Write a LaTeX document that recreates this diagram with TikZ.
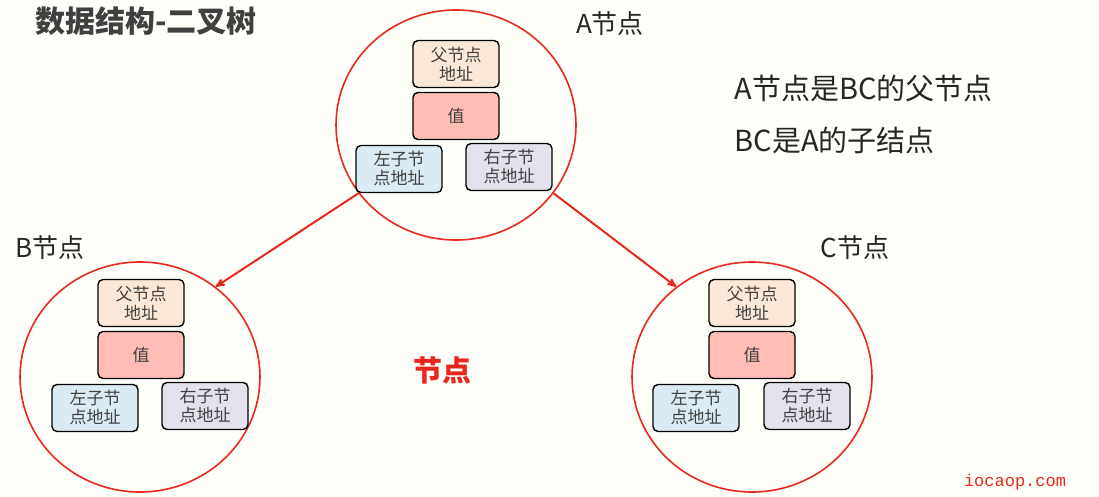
\documentclass[tikz,border=0pt]{standalone}
\usepackage{fontspec}
\setmainfont{Noto Sans CJK SC}
\setmonofont{Liberation Mono}
\usetikzlibrary{arrows,positioning,shapes.geometric}
\definecolor{ringred}{HTML}{E8281E}
\definecolor{parentfill}{HTML}{FCE8D8}
\definecolor{valfill}{HTML}{FFBDB5}
\definecolor{leftfill}{HTML}{DBEBF3}
\definecolor{rightfill}{HTML}{E3E1EB}
\tikzset{
  ring/.style={draw=ringred,line width=1.6pt,ellipse,minimum width=240pt,minimum height=230pt},
  cell/.style={draw,line width=1.4pt,rounded corners=5pt,minimum width=86pt,minimum height=47pt,
    align=center,font=\fontsize{17}{19}\selectfont,text=black!75,inner sep=1pt},
  title/.style={font=\fontsize{26}{30}\selectfont,text=black!85},
  link/.style={->,>=stealth',ringred,line width=2pt}
}
% #1 prefix, #2/#3 centre, #4 left offset, #5 right offset
\newcommand{\treenode}[5]{%
  \node[cell,fill=parentfill] (#1par) at (#2,#3-61) {父节点\\地址};
  \node[cell,fill=valfill] (#1val) at (#2,#3-9) {值};
  \node[cell,fill=leftfill] (#1lft) at (#2+#4,#3+44) {左子节\\点地址};
  \node[cell,fill=rightfill] (#1rgt) at (#2+#5,#3+42) {右子节\\点地址};
}
\begin{document}
\begin{tikzpicture}[x=1pt,y=-1pt]
  \fill[white!98!yellow] (0,0) rectangle (1099,497);
  \useasboundingbox (0,0) rectangle (1099,497);
  % three nodes of the tree
  \node[ring] (A) at (456,125) {};
  \node[ring] (B) at (140,377) {};
  \node[ring] (C) at (752,377) {};
  \treenode{a}{456}{125}{-57}{53}
  \treenode{b}{141}{364}{-46}{64}
  \treenode{c}{752}{364}{-56}{55}
  \node[title] (alab) at (610,24) {A节点};
  \node[title] (blab) at (50,248) {B节点};
  \node[title] (clab) at (855,248) {C节点};
  \node[font=\fontsize{30}{32}\selectfont\bfseries,text=black!75] (head) at (146,21) {数据结构-二叉树};
  \node[font=\fontsize{29}{32}\selectfont,text=black!85,anchor=west] (t1) at (731,88) {A节点是BC的父节点};
  \node[font=\fontsize{29}{32}\selectfont,text=black!85,anchor=west] (t2) at (731,140) {BC是A的子结点};
  \node[font=\fontsize{29}{32}\selectfont\bfseries,text=ringred] (mid) at (442,370) {节点};
  \node[font=\fontsize{17}{18}\selectfont\ttfamily,text=ringred] (mark) at (1015,482) {iocaop.com};
  \draw[link] (A.-145) -- (B.50);
  \draw[link] (A.-35) -- (C.130);
\end{tikzpicture}
\end{document}
